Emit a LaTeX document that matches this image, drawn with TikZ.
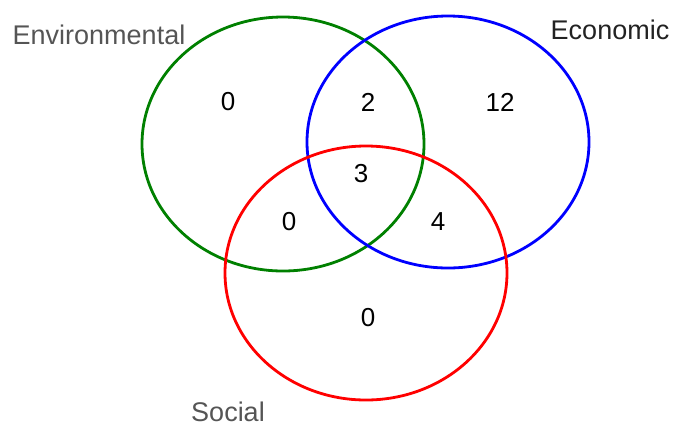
\documentclass[tikz,border=0pt]{standalone}
\usepackage{fontspec}
\setmainfont{Liberation Sans}
\definecolor{vgreen}{HTML}{008000}
\definecolor{vblue}{HTML}{0000FF}
\definecolor{vred}{HTML}{FF0000}
\definecolor{lblgray}{HTML}{555555}
\definecolor{lbldark}{HTML}{222222}
\begin{document}
\begin{tikzpicture}[x=1pt,y=-1pt,
  setline/.style={line width=2.8pt},
  num/.style={font=\fontsize{26}{30}\selectfont, text=black, inner sep=0pt},
  lbl/.style={font=\fontsize{27}{32}\selectfont, inner sep=0pt}]
\useasboundingbox (0,0) rectangle (674,424);
\draw[setline, vgreen] (283,144) ellipse [x radius=141, y radius=127];
\draw[setline, vblue] (448,142) ellipse [x radius=141, y radius=126];
\draw[setline, vred] (366,273) ellipse [x radius=141, y radius=127];
\node[lbl, text=lblgray] (env) at (99,35) {Environmental};
\node[lbl, text=lbldark] (eco) at (610,30) {Economic};
\node[lbl, text=lblgray] (soc) at (228,412) {Social};
\node[num] (n1) at (228,102) {0};
\node[num] (n2) at (368,102) {2};
\node[num] (n3) at (500,102) {12};
\node[num] (n4) at (361,174) {3};
\node[num] (n5) at (289,222) {0};
\node[num] (n6) at (438,222) {4};
\node[num] (n7) at (368,318) {0};
\end{tikzpicture}
\end{document}
